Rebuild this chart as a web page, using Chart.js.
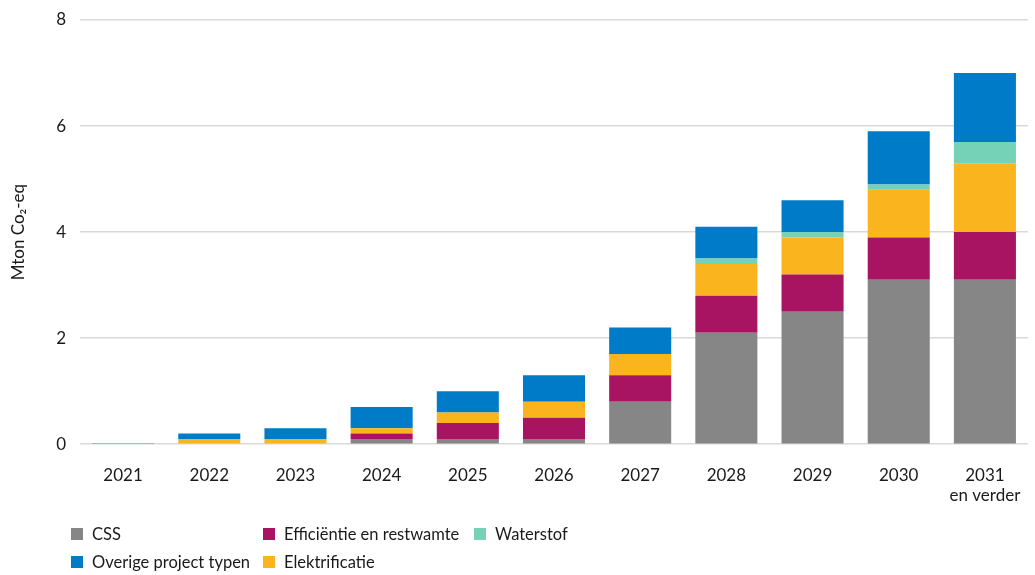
<!DOCTYPE html>
<html>
<head>
<meta charset="utf-8">
<script src="https://cdn.jsdelivr.net/npm/chart.js@4/dist/chart.umd.min.js"></script>
<style>
  html, body { margin: 0; padding: 0; background: #fff; }
  #wrap { position: relative; width: 1035px; height: 575px; }
  #legend { position: absolute; left: 71px; top: 523px; display: grid;
    grid-template-columns: 192px 211px 120px; row-gap: 6px;
    font-family: Lato, "Open Sans", sans-serif; font-size: 16.5px; color: #1a1a1a; }
  .item { display: flex; align-items: center; height: 22px; white-space: nowrap; }
  .box { width: 12px; height: 12px; margin-right: 9px; flex: none; }
</style>
</head>
<body>
<div id="wrap">
  <canvas id="c" width="1035" height="575"></canvas>
  <div id="legend"></div>
</div>
<script>
const categories = ["2021", "2022", "2023", "2024", "2025", "2026", "2027", "2028", "2029", "2030", ["2031", "en verder"]];
const css            = [0,    0,   0,   0.1, 0.1, 0.1, 0.8, 2.1, 2.5, 3.1, 3.1];
const efficientie    = [0.02, 0,   0,   0.1, 0.3, 0.4, 0.5, 0.7, 0.7, 0.8, 0.9];
const elektrificatie = [0,    0.1, 0.1, 0.1, 0.2, 0.3, 0.4, 0.6, 0.7, 0.9, 1.3];
const waterstof      = [0,    0,   0,   0,   0,   0,   0,   0.1, 0.1, 0.1, 0.4];
const overige        = [0,    0.1, 0.2, 0.4, 0.4, 0.5, 0.5, 0.6, 0.6, 1.0, 1.3];
const yTicks = [0, 2, 4, 6, 8];
const yTitle = "Mton Co\u2082-eq";
const legendOrder = ["CSS", "Efficiëntie en restwamte", "Waterstof", "Overige project typen", "Elektrificatie"];

const FONT = 'Lato, "Open Sans", sans-serif';
const datasets = [
  { label: "CSS", data: css, backgroundColor: "#868686" },
  { label: "Efficiëntie en restwamte", data: efficientie, backgroundColor: "#a81461" },
  { label: "Elektrificatie", data: elektrificatie, backgroundColor: "#f9b41e" },
  { label: "Waterstof", data: waterstof, backgroundColor: "#76d2b6" },
  { label: "Overige project typen", data: overige, backgroundColor: "#007bc7" }
];
datasets.forEach(d => { d.borderWidth = 0; d.barPercentage = 0.72; d.categoryPercentage = 1.0; });

const chart = new Chart(document.getElementById("c"), {
  type: "bar",
  data: { labels: categories, datasets },
  options: {
    responsive: false,
    animation: false,
    layout: { padding: { top: 20, right: 7, bottom: 48, left: 0 } },
    plugins: { legend: { display: false }, tooltip: { enabled: false } },
    scales: {
      x: {
        stacked: true,
        afterFit: s => { s.paddingRight = 0; s.paddingLeft = 0; },
        grid: { display: false, drawTicks: false },
        border: { display: false },
        ticks: { color: "#1a1a1a", font: { family: FONT, size: 17 }, padding: 21, maxRotation: 0 }
      },
      y: {
        stacked: true,
        min: 0, max: 8,
        afterBuildTicks: s => { s.ticks = yTicks.map(v => ({ value: v })); },
        afterFit: s => { s.width = 80; s.paddingTop = 0; s.paddingBottom = 0; },
        grid: { color: "#d9d9d9", lineWidth: 1.5, drawTicks: false },
        border: { display: false },
        ticks: { color: "#1a1a1a", font: { family: FONT, size: 17 }, padding: 14 },
        title: { display: true, text: yTitle, color: "#1a1a1a", font: { family: FONT, size: 17 }, padding: { top: 8, bottom: 0 } }
      }
    }
  }
});

const leg = document.getElementById("legend");
legendOrder.forEach(name => {
  const ds = datasets.find(d => d.label === name);
  const it = document.createElement("div");
  it.className = "item";
  const b = document.createElement("span");
  b.className = "box";
  b.style.background = ds.backgroundColor;
  const t = document.createElement("span");
  t.textContent = ds.label;
  it.appendChild(b); it.appendChild(t);
  leg.appendChild(it);
});
</script>
</body>
</html>
